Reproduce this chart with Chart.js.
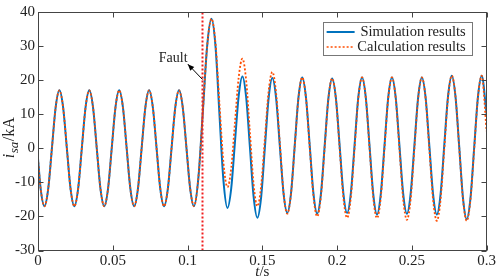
<!DOCTYPE html>
<html>
<head>
<meta charset="utf-8">
<script src="https://cdn.jsdelivr.net/npm/chart.js@4"></script>
<style>
  html, body { margin: 0; padding: 0; background: #fff; }
  #wrap { width: 498px; height: 278px; }
</style>
</head>
<body>
<div id="wrap"><canvas id="chart" width="498" height="278"></canvas></div>
<script>
// time axis (s) at extrema, zero crossings and the points between them
const preFaultTimes = [
    0, 0.0018,
    0.0043, 0.0068, 0.0093, 0.0118, 0.0143, 0.0168, 0.0193, 0.0218,
    0.0243, 0.0268, 0.0293, 0.0318, 0.0343, 0.0368, 0.0393, 0.0418,
    0.0443, 0.0468, 0.0493, 0.0518, 0.0543, 0.0568, 0.0593, 0.0618,
    0.0643, 0.0668, 0.0693, 0.0718, 0.0743, 0.0768, 0.0793, 0.0818,
    0.0843, 0.0868, 0.0893, 0.0918, 0.0943, 0.0968, 0.0993, 0.1018,
    0.1043, 0.1072, 0.1102, 0.1131, 0.116
];
const preFaultValues = [
    -3, -12,
    -17, -12, 0, 12, 17, 12, 0, -12,
    -17, -12, 0, 12, 17, 12, 0, -12,
    -17, -12, 0, 12, 17, 12, 0, -12,
    -17, -12, 0, 12, 17, 12, 0, -12,
    -17, -12, 0, 12, 17, 12, 0, -12,
    -17, -8.9, 10.5, 29.9, 38
];
const postFaultTimes = [
    0.1187, 0.1213, 0.124, 0.1267,
    0.1292, 0.1317, 0.1342, 0.1367,
    0.1392, 0.1417, 0.1442, 0.1467,
    0.1492, 0.1517, 0.1542, 0.1567,
    0.1592, 0.1617, 0.1642, 0.1667,
    0.1692, 0.1717, 0.1742, 0.1767,
    0.1792, 0.1817, 0.1842, 0.1867,
    0.1892, 0.1917, 0.1942, 0.1967,
    0.1992, 0.2017, 0.2042, 0.2067,
    0.2092, 0.2117, 0.2142, 0.2167,
    0.2192, 0.2217, 0.2242, 0.2267,
    0.2292, 0.2317, 0.2342, 0.2367,
    0.2392, 0.2417, 0.2442, 0.2467,
    0.2492, 0.2517, 0.2542, 0.2567,
    0.2592, 0.2617, 0.2642, 0.2667,
    0.2692, 0.2717, 0.2742, 0.2767,
    0.2792, 0.2817, 0.2842, 0.2867,
    0.2892, 0.2917, 0.2942, 0.2967,
    0.3
];
const simPostValues = [
    29.9, 10.3, -9.4, -17.5,
    -11.8, 1.8, 15.4, 21.1,
    15.0, 0.4, -14.3, -20.4,
    -14.4, 0.1, 14.6, 20.6,
    14.8, 0.8, -13.2, -19,
    -13.2, 0.9, 15.0, 20.8,
    14.9, 0.8, -13.3, -19.2,
    -13.4, 0.7, 14.7, 20.5,
    14.7, 0.8, -13.2, -19,
    -13.2, 0.9, 15.0, 20.8,
    14.9, 0.7, -13.5, -19.4,
    -13.5, 0.7, 14.9, 20.8,
    14.9, 0.8, -13.3, -19.2,
    -13.3, 0.8, 14.9, 20.8,
    14.9, 0.7, -13.5, -19.4,
    -13.5, 1.0, 15.3, 21.3,
    15.1, 0.3, -14.6, -20.8,
    -14.6, 0.3, 15.1, 21.3,
    10
];
const calcPostValues = [
    30.8, 13.3, -4.2, -11.4,
    -5.9, 7.5, 20.8, 26.3,
    19.9, 4.7, -10.7, -17,
    -11.2, 2.7, 16.6, 22.4,
    16.3, 1.6, -13.1, -19.2,
    -13.3, 0.8, 14.9, 20.8,
    14.8, 0.4, -14.0, -20,
    -14.1, 0.3, 14.6, 20.5,
    14.5, 0.1, -14.4, -20.4,
    -14.4, 0.2, 14.8, 20.8,
    14.8, 0.2, -14.5, -20.5,
    -14.5, 0.2, 14.8, 20.8,
    14.7, -0.1, -14.9, -21,
    -14.9, -0.1, 14.7, 20.8,
    14.6, -0.3, -15.1, -21.3,
    -15.1, 0, 15.1, 21.3,
    15.1, 0, -15.1, -21.3,
    -15.1, 0, 15.1, 21.3,
    5
];
const faultTime = 0.11;
const xTicks = [0, 0.05, 0.1, 0.15, 0.2, 0.25, 0.3];
const yTicks = [-30, -20, -10, 0, 10, 20, 30, 40];
const seriesNames = ['Simulation results', 'Calculation results'];

const times = preFaultTimes.concat(postFaultTimes);
const simValues = preFaultValues.concat(simPostValues);
const calcValues = preFaultValues.concat(calcPostValues);

const toPoints = (ts, vs) => ts.map((t, i) => ({ x: t, y: vs[i] }));

const SERIF = '"Liberation Serif", "Times New Roman", serif';
const BLUE = '#0072BD';
const ORANGE = '#FF4D00';
const AXIS = '#444';
const TEXT = '#222';

// box, inward ticks, legend, fault note and axis titles
const decorations = {
    id: 'decorations',
    afterDraw(chart) {
        const { ctx, chartArea: a, scales: { x, y } } = chart;
        ctx.save();
        ctx.strokeStyle = AXIS;
        ctx.lineWidth = 1;

        const L = Math.round(a.left) + 0.5, R = Math.round(a.right) - 0.5;
        const T = Math.round(a.top) + 0.5, B = Math.round(a.bottom) - 0.5;
        ctx.beginPath();
        xTicks.forEach(v => {
            const px = Math.round(x.getPixelForValue(v)) + 0.5;
            ctx.moveTo(px, B); ctx.lineTo(px, B - 5);
            ctx.moveTo(px, T); ctx.lineTo(px, T + 5);
        });
        yTicks.forEach(v => {
            const py = Math.round(y.getPixelForValue(v)) + 0.5;
            ctx.moveTo(L, py); ctx.lineTo(L + 5, py);
            ctx.moveTo(R, py); ctx.lineTo(R - 5, py);
        });
        ctx.stroke();
        ctx.strokeRect(L, T, R - L, B - T);

        // fault note with arrow
        const tipX = x.getPixelForValue(0.1002), tipY = y.getPixelForValue(24.7);
        const tailX = x.getPixelForValue(faultTime), tailY = y.getPixelForValue(20.2);
        ctx.strokeStyle = '#000';
        ctx.fillStyle = '#000';
        ctx.beginPath();
        ctx.moveTo(tailX, tailY);
        ctx.lineTo(tipX, tipY);
        ctx.stroke();
        const ang = Math.atan2(tipY - tailY, tipX - tailX);
        ctx.beginPath();
        ctx.moveTo(tipX, tipY);
        ctx.lineTo(tipX - 7 * Math.cos(ang - 0.4), tipY - 7 * Math.sin(ang - 0.4));
        ctx.lineTo(tipX - 7 * Math.cos(ang + 0.4), tipY - 7 * Math.sin(ang + 0.4));
        ctx.closePath();
        ctx.fill();
        ctx.fillStyle = TEXT;
        ctx.font = '14px ' + SERIF;
        ctx.textAlign = 'right';
        ctx.textBaseline = 'middle';
        ctx.fillText('Fault', x.getPixelForValue(0.1), y.getPixelForValue(26.4));

        // legend
        const lx = a.right - 164, ly = a.top + 10, lw = 149, lh = 33;
        ctx.fillStyle = '#fff';
        ctx.fillRect(lx, ly, lw, lh);
        ctx.strokeStyle = '#777';
        ctx.strokeRect(Math.round(lx) + 0.5, Math.round(ly) + 0.5, lw, lh);
        const rows = [
            { color: BLUE, dash: [], width: 2 },
            { color: ORANGE, dash: [2, 2], width: 1.5 }
        ];
        ctx.font = '14.5px ' + SERIF;
        ctx.textAlign = 'right';
        ctx.textBaseline = 'middle';
        rows.forEach((r, i) => {
            const ry = ly + 10 + i * 15;
            ctx.strokeStyle = r.color;
            ctx.lineWidth = r.width;
            ctx.setLineDash(r.dash);
            ctx.beginPath();
            ctx.moveTo(lx + 4, ry);
            ctx.lineTo(lx + 32, ry);
            ctx.stroke();
            ctx.setLineDash([]);
            ctx.fillStyle = TEXT;
            ctx.fillText(seriesNames[i], lx + lw - 6, ry);
        });

        // axis titles
        ctx.fillStyle = TEXT;
        ctx.textAlign = 'left';
        ctx.textBaseline = 'alphabetic';
        const cx = (a.left + a.right) / 2;
        ctx.font = 'italic 15px ' + SERIF;
        const wt = ctx.measureText('t').width;
        ctx.font = '15px ' + SERIF;
        const ws = ctx.measureText('/s').width;
        const x0 = cx - (wt + ws) / 2;
        ctx.font = 'italic 15px ' + SERIF;
        ctx.fillText('t', x0, 276);
        ctx.font = '15px ' + SERIF;
        ctx.fillText('/s', x0 + wt, 276);

        ctx.translate(14, (a.top + a.bottom) / 2 + 7);
        ctx.rotate(-Math.PI / 2);
        ctx.font = 'italic 16px ' + SERIF;
        const wi = ctx.measureText('i').width;
        ctx.font = 'italic 13px ' + SERIF;
        const wsa = ctx.measureText('sa').width;
        ctx.font = '16px ' + SERIF;
        const wu = ctx.measureText('/kA').width;
        let px = -(wi + wsa + wu) / 2;
        ctx.font = 'italic 16px ' + SERIF;
        ctx.fillText('i', px, 0);
        px += wi + 0.5;
        ctx.font = 'italic 13px ' + SERIF;
        ctx.fillText('sa', px, 4);
        px += wsa + 0.5;
        ctx.font = '16px ' + SERIF;
        ctx.fillText('/kA', px, 0);
        ctx.restore();
    }
};

const ctx = document.getElementById('chart').getContext('2d');
new Chart(ctx, {
    type: 'line',
    data: {
        datasets: [
            {
                label: 'Fault',
                data: [{ x: faultTime, y: -30 }, { x: faultTime, y: 40 }],
                borderColor: '#F01E1E',
                borderWidth: 2,
                borderDash: [2, 2],
                pointRadius: 0
            },
            {
                label: seriesNames[1],
                data: toPoints(times, calcValues),
                borderColor: ORANGE,
                borderWidth: 1.8,
                borderDash: [2, 2],
                pointRadius: 0,
                cubicInterpolationMode: 'monotone'
            },
            {
                label: seriesNames[0],
                data: toPoints(times, simValues),
                borderColor: BLUE,
                borderWidth: 2,
                pointRadius: 0,
                cubicInterpolationMode: 'monotone'
            }
        ]
    },
    options: {
        responsive: false,
        animation: false,
        devicePixelRatio: 1,
        events: [],
        layout: { padding: { top: 4, right: 9, left: 0, bottom: 0 } },
        plugins: {
            legend: { display: false },
            tooltip: { enabled: false }
        },
        scales: {
            x: {
                type: 'linear',
                min: 0,
                max: 0.3,
                grid: { display: false, drawTicks: false },
                border: { display: false },
                afterBuildTicks: axis => { axis.ticks = xTicks.map(v => ({ value: v })); },
                afterFit: axis => { axis.height = 27.5; },
                ticks: {
                    autoSkip: false,
                    maxRotation: 0,
                    padding: 2,
                    color: TEXT,
                    font: { family: SERIF, size: 15 },
                    callback: v => String(+v.toFixed(2))
                }
            },
            y: {
                min: -30,
                max: 40,
                grid: { display: false, drawTicks: false },
                border: { display: false },
                afterBuildTicks: axis => { axis.ticks = yTicks.map(v => ({ value: v })); },
                afterFit: axis => { axis.width = 38; },
                ticks: {
                    padding: 3,
                    color: TEXT,
                    font: { family: SERIF, size: 15 },
                    callback: v => String(v)
                }
            }
        }
    },
    plugins: [decorations]
});
</script>
</body>
</html>
